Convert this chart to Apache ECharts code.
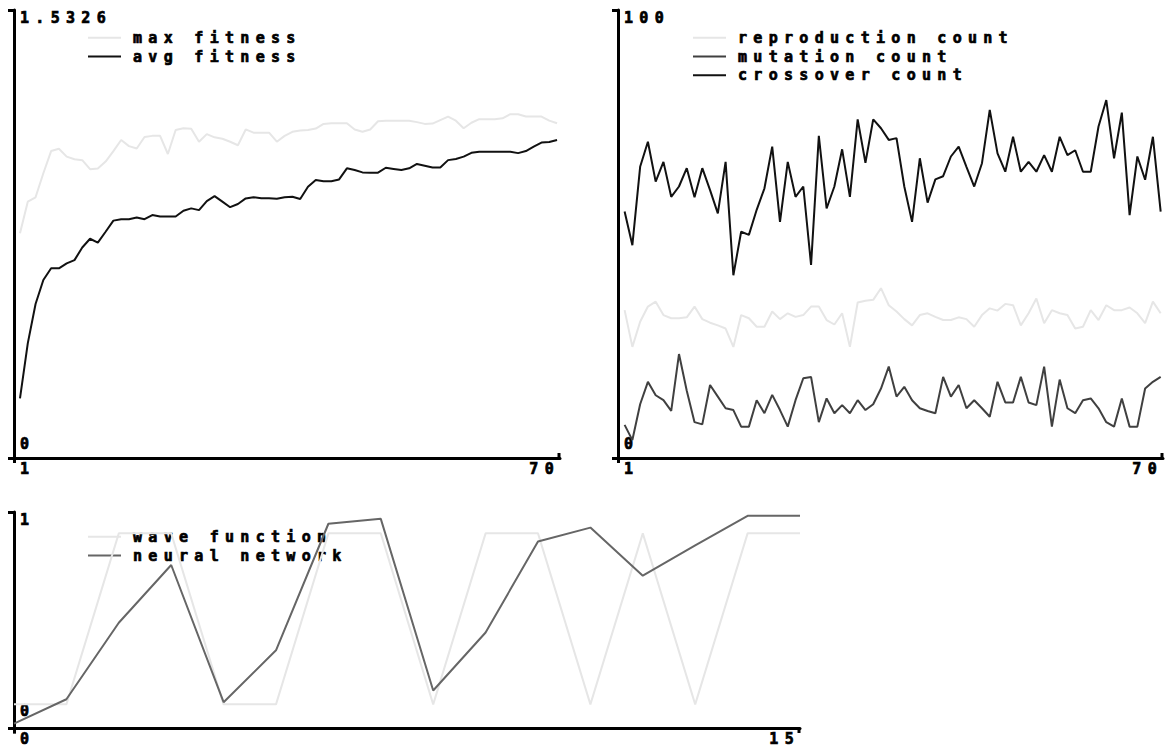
<!DOCTYPE html>
<html><head><meta charset="utf-8">
<script src="https://cdn.jsdelivr.net/npm/echarts@6/dist/echarts.min.js"></script>
<style>
html,body{margin:0;padding:0;background:#fff;}
#c{width:1167px;height:747px;letter-spacing:6.3px;}
</style></head><body><div id="c"></div>
<script>
// ---- data ----
const fitnessSeriesNames = ['max fitness', 'avg fitness'];
const maxFitness = [0.769,0.877,0.892,0.974,1.050,1.058,1.031,1.022,1.019,0.988,
 0.990,1.014,1.050,1.088,1.067,1.059,1.098,1.102,1.102,1.040,
 1.122,1.128,1.126,1.082,1.108,1.097,1.092,1.082,1.070,1.124,
 1.113,1.113,1.113,1.082,1.102,1.116,1.120,1.122,1.127,1.143,
 1.145,1.145,1.145,1.124,1.116,1.124,1.152,1.154,1.154,1.154,
 1.154,1.149,1.143,1.144,1.156,1.168,1.154,1.128,1.147,1.159,
 1.159,1.159,1.162,1.176,1.176,1.168,1.168,1.168,1.154,1.145];
const avgFitness = [0.204,0.392,0.527,0.609,0.649,0.649,0.666,0.677,0.720,0.750,
 0.737,0.774,0.812,0.817,0.817,0.823,0.817,0.831,0.826,0.826,
 0.826,0.846,0.854,0.848,0.879,0.896,0.877,0.858,0.869,0.888,
 0.892,0.889,0.889,0.887,0.892,0.894,0.886,0.928,0.951,0.947,
 0.947,0.953,0.991,0.985,0.977,0.976,0.976,0.993,0.989,0.985,
 0.991,1.006,1.000,0.994,0.994,1.019,1.023,1.031,1.044,1.048,
 1.048,1.048,1.048,1.048,1.043,1.050,1.065,1.079,1.081,1.088];

const countSeriesNames = ['reproduction count', 'mutation count', 'crossover count'];
const reproductionCount = [33.0,24.8,30.4,33.8,34.9,31.9,31.2,31.2,31.4,33.8,
 31.0,30.2,29.6,28.9,24.8,31.9,31.2,29.3,29.3,32.7,
 31.0,32.3,31.5,31.9,33.8,33.8,30.8,29.8,32.3,24.8,
 34.7,35.1,35.3,37.9,34.1,32.7,31.0,29.6,31.9,32.3,
 31.5,30.8,30.8,31.4,31.0,29.3,31.9,33.4,32.9,34.4,
 34.1,29.6,32.3,35.6,30.1,33.0,32.3,31.9,28.9,29.3,
 33.0,30.8,34.1,33.0,33.0,33.6,32.3,30.1,34.9,32.3];
const mutationCount = [7.4,4.0,12.0,17.0,14.0,12.9,10.5,23.2,15.0,8.0,
 7.5,16.3,13.7,11.1,10.7,7.0,7.0,12.9,10.0,14.1,
 10.7,7.0,12.9,17.8,18.1,8.0,13.3,10.0,11.8,10.0,
 12.9,10.7,12.0,15.5,20.4,13.7,15.9,12.9,11.1,10.5,
 10.0,18.1,13.7,16.3,11.1,12.9,11.1,9.2,17.0,12.4,
 12.4,18.1,12.4,11.8,20.4,7.0,17.5,11.1,10.0,12.9,
 13.3,11.1,8.0,7.0,13.3,7.0,7.0,15.5,17.0,18.1];
const crossoverCount = [55.0,47.5,65.0,70.6,61.7,66.1,58.3,60.6,64.7,58.2,
 64.7,59.8,54.6,66.1,40.8,50.5,49.8,55.4,60.2,69.5,
 52.7,66.1,58.3,60.6,43.1,71.9,55.7,60.6,68.9,58.3,
 75.6,65.9,75.6,73.6,71.0,71.4,60.6,52.7,66.9,57.0,
 62.2,62.9,67.3,69.5,65.0,60.6,65.8,77.7,68.0,63.9,
 71.7,63.9,66.1,63.9,67.6,63.9,71.7,67.6,68.7,63.9,
 63.9,74.0,79.9,66.9,77.1,54.2,67.3,62.1,71.7,55.0];

const waveSeriesNames = ['wave function', 'neural network'];
const waveX = [0,1,2,3,4,5,6,7,8,9,10,11,12,13,14,15];
const waveFunction = [0.1,0.1,0.9,0.9,0.1,0.1,0.9,0.9,0.1,0.9,0.9,0.1,0.9,0.1,0.9,0.9];
const neuralNetwork = [0.01,0.124,0.482,0.752,0.110,0.353,0.945,0.968,0.165,0.436,0.862,0.927,0.702,0.844,0.982,0.982];

const fitnessYLabels = ['0', '1.5326'];
const countYLabels = ['0', '100'];
const waveYLabels = ['0', '1'];
const genXLabels = ['1', '70'];
const waveXLabels = ['0', '15'];

// ---- layout / style ----
const generations = maxFitness.map((_, i) => i + 1);
const FONT = {fontFamily: 'DejaVu Sans Mono', fontWeight: 'bold', fontSize: 15, color: '#000',
  textBorderColor: '#000', textBorderWidth: 0.7};
const grids = [
  {left: 14, top: 10, width: 546, height: 448},
  {left: 618, top: 10, width: 545, height: 448},
  {left: 14, top: 512, width: 786, height: 221}
];
const AX = {color: '#000', width: 3};

function xAxisFor(gi, min, max, labels) {
  return {
    type: 'value', gridIndex: gi, min: min, max: max,
    splitLine: {show: false},
    axisLine: {show: true, onZero: false, lineStyle: AX},
    axisTick: {show: true, customValues: [min], length: 5, lineStyle: AX},
    axisLabel: Object.assign({
      show: true, customValues: [min, max],
      formatter: v => (Math.abs(v - min) < 1e-9 ? labels[0] : labels[1]),
      alignMinLabel: 'left', alignMaxLabel: 'right',
      margin: 3, padding: [0, 0, 0, 6]
    }, FONT)
  };
}
function yAxisFor(gi, min, max, labelVals, labels) {
  return {
    type: 'value', gridIndex: gi, min: min, max: max,
    splitLine: {show: false},
    axisLine: {show: true, onZero: false, lineStyle: AX},
    axisTick: {show: true, customValues: [min, max], length: 6, lineStyle: AX},
    axisLabel: Object.assign({
      show: true, inside: true, customValues: labelVals,
      formatter: v => (Math.abs(v - labelVals[0]) < 1e-9 ? labels[0] : labels[1]),
      verticalAlignMinLabel: 'bottom', verticalAlignMaxLabel: 'top',
      margin: 6, padding: [0, 0, 7, 0]
    }, FONT)
  };
}
function legendFor(names, left, top) {
  return {
    data: names, left: left, top: top, orient: 'vertical', icon: 'rect', padding: 0,
    itemWidth: 33, itemHeight: 2, itemGap: 3, selectedMode: false, z: 1,
    textStyle: Object.assign({padding: [0, 0, 0, 7]}, FONT)
  };
}
function lineSeries(name, xi, xs, ys, color) {
  return {
    type: 'line', name: name, xAxisIndex: xi, yAxisIndex: xi,
    data: xs.map((x, i) => [x, ys[i]]),
    showSymbol: false, symbol: 'none', z: 2,
    lineStyle: {color: color, width: 2}, itemStyle: {color: color},
    emphasis: {disabled: true}
  };
}
const LIGHT = '#e6e6e6';
const waveMin = -0.0137;

const option = {
  animation: false,
  backgroundColor: '#fff',
  grid: grids,
  xAxis: [
    xAxisFor(0, 0.23, 70.38, genXLabels),
    xAxisFor(1, 0.15, 70.3, genXLabels),
    xAxisFor(2, 0, 15, waveXLabels)
  ],
  yAxis: [
    yAxisFor(0, 0, 1.5326, [0, 1.5326], fitnessYLabels),
    yAxisFor(1, 0, 100, [0, 100], countYLabels),
    yAxisFor(2, waveMin, 1, [0, 1], waveYLabels)
  ],
  legend: [
    legendFor(fitnessSeriesNames, 88, 30),
    legendFor(countSeriesNames, 693, 30),
    legendFor(waveSeriesNames, 88, 529)
  ],
  graphic: grids.map(g => ({
    type: 'line', silent: true,
    shape: {x1: g.left + g.width - 1, y1: g.top + g.height - 5, x2: g.left + g.width - 1, y2: g.top + g.height},
    style: {stroke: '#000', lineWidth: 3}
  })),
  series: [
    lineSeries('max fitness', 0, generations, maxFitness, LIGHT),
    lineSeries('avg fitness', 0, generations, avgFitness, '#111'),
    lineSeries('reproduction count', 1, generations, reproductionCount, LIGHT),
    lineSeries('mutation count', 1, generations, mutationCount, '#404040'),
    lineSeries('crossover count', 1, generations, crossoverCount, '#111'),
    lineSeries('wave function', 2, waveX, waveFunction, LIGHT),
    lineSeries('neural network', 2, waveX, neuralNetwork, '#666')
  ]
};
const chart = echarts.init(document.getElementById('c'), null, {renderer: 'svg'});
chart.setOption(option);
</script></body></html>
